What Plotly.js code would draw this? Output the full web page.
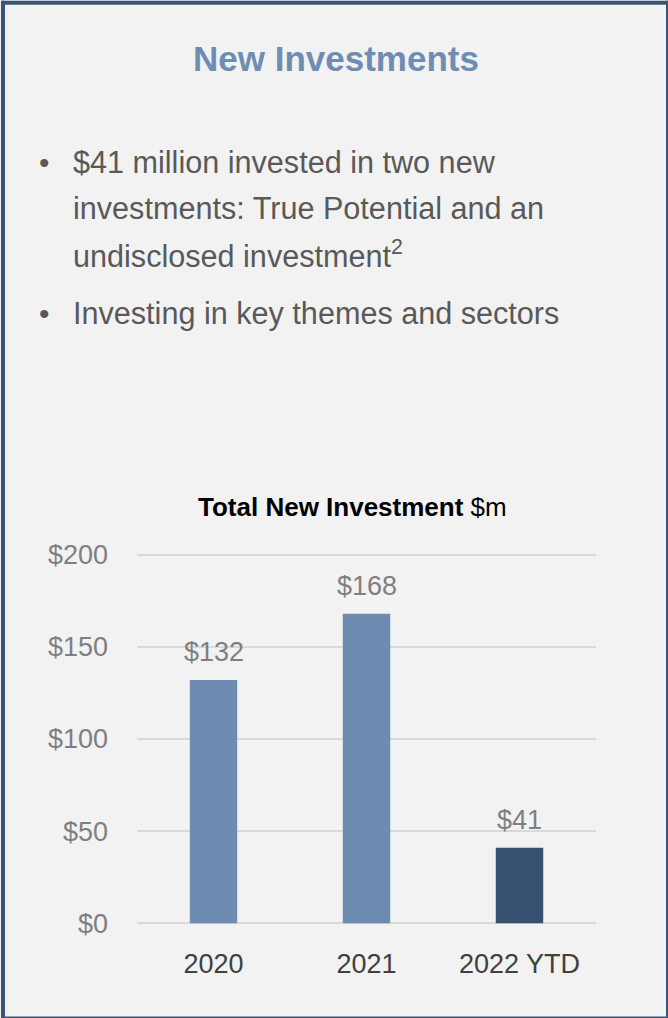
<!DOCTYPE html>
<html><head><meta charset="utf-8">
<script src="https://cdn.plot.ly/plotly-3.0.1.min.js"></script>
<style>html,body{margin:0;padding:0;background:#f2f2f2;}#chart{width:668px;height:1018px;}</style>
</head><body><div id="chart"></div>
<script>
const categories = ['2020', '2021', '2022 YTD'];
const values = [132, 168, 41];
const valueLabels = ['$132', '$168', '$41'];
const barColors = ['#6e8cb1', '#6e8cb1', '#36506f'];
const yTicks = [0, 50, 100, 150, 200];
const yTickLabels = ['$0', '$50', '$100', '$150', '$200'];
const pageTitle = 'New Investments';
const bulletLines = [
  ['•', '$41 million invested in two new'],
  ['', 'investments: True Potential and an'],
  ['', 'undisclosed investment<sup>2</sup>'],
  ['•', 'Investing in key themes and sectors']
];
const chartTitle = '<b>Total New Investment</b> $m';

const FONT = '"Liberation Sans Narrow", "Arial Narrow", "Liberation Sans", Arial, sans-serif';
const W = 668, H = 1018;
const M = {l: 137, r: 72, t: 551.3, b: 91.3};
const ph = H - M.t - M.b;
const pw = W - M.l - M.r;
const py = y => (H - M.b - y) / ph;
const px = x => (x - M.l) / pw;

const bulletY = [163, 209, 255, 314];
const annotations = [
  {text: '<b>' + pageTitle + '</b>', x: px(336), y: py(60), xref: 'paper', yref: 'paper', showarrow: false,
   xanchor: 'center', yanchor: 'middle', font: {family: FONT, size: 35, color: '#6f8db3'}},
  {text: chartTitle, x: px(352), y: py(507), xref: 'paper', yref: 'paper', showarrow: false,
   xanchor: 'center', yanchor: 'middle', font: {family: FONT, size: 26, color: '#000000'}}
];
bulletLines.forEach((ln, i) => {
  if (ln[0]) annotations.push({text: ln[0], x: px(37), y: py(bulletY[i]), xref: 'paper', yref: 'paper',
    showarrow: false, xanchor: 'left', yanchor: 'middle', font: {family: FONT, size: 30, color: '#595959'}});
  annotations.push({text: ln[1], x: px(71), y: py(bulletY[i]), xref: 'paper', yref: 'paper',
    showarrow: false, xanchor: 'left', yanchor: 'middle', font: {family: FONT, size: 30.6, color: '#595959'}});
});
// value labels above the bars, positioned by the data axes (category index)
categories.forEach((c, i) => {
  annotations.push({text: valueLabels[i], x: i, y: values[i], xref: 'x', yref: 'y', showarrow: false,
    xanchor: 'center', yanchor: 'bottom', yshift: 11, font: {family: FONT, size: 27, color: '#7f7f7f'}});
});

const data = [{
  type: 'bar', x: categories, y: values,
  marker: {color: barColors, line: {width: 0}}, width: 0.31, hoverinfo: 'none'
}];

const layout = {
  width: W, height: H, margin: M, showlegend: false,
  paper_bgcolor: '#f2f2f2', plot_bgcolor: '#f2f2f2',
  font: {family: FONT},
  xaxis: {type: 'category', range: [-0.5, 2.5], showgrid: false, showline: false, ticks: '', zeroline: false,
    tickfont: {family: FONT, size: 27, color: '#404040'}, ticklabelstandoff: 18},
  yaxis: {range: [-2, 202], tickvals: yTicks, ticktext: yTickLabels, showgrid: true,
    gridcolor: '#d9d9d9', gridwidth: 2, zeroline: false, showline: false, ticks: '',
    tickfont: {family: FONT, size: 27, color: '#7f7f7f'}, ticklabelstandoff: 28},
  annotations: annotations,
  shapes: [
    {type: 'line', xref: 'paper', yref: 'paper', x0: px(1), x1: px(668), y0: py(4), y1: py(4), line: {color: '#3b5475', width: 4}},
    {type: 'line', xref: 'paper', yref: 'paper', x0: px(3), x1: px(3), y0: py(2), y1: py(1018), line: {color: '#3b5475', width: 4}},
    {type: 'line', xref: 'paper', yref: 'paper', x0: px(667), x1: px(667), y0: py(2), y1: py(1018), line: {color: '#3b5475', width: 2}},
    {type: 'line', xref: 'paper', yref: 'paper', x0: px(1), x1: px(668), y0: py(1017), y1: py(1017), line: {color: '#3b5475', width: 2}}
  ]
};
Plotly.newPlot('chart', data, layout, {displayModeBar: false, staticPlot: true});
</script></body></html>
